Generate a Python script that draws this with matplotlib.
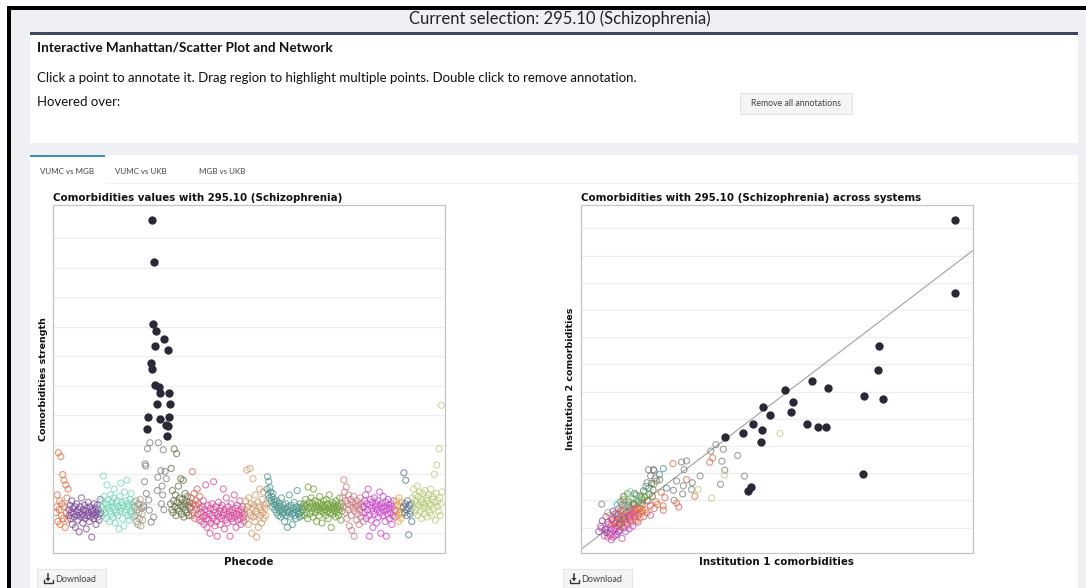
import matplotlib.pyplot as plt
import numpy as np
from matplotlib.patches import Rectangle, Polygon

# ---- data (arbitrary units) ----
# Manhattan plot: comorbidity strength per phecode, grouped by category (in phecode order)
cat_colors = ['#e8693a', '#7a4a9a', '#72d6b4', '#a69a80', '#7a7a7a', '#5e7040',
              '#d9605a', '#d8479a', '#cf9a66', '#4a958c', '#6c9e34', '#cc7a80',
              '#cc44cc', '#e8a63a', '#56709a', '#b9cc7a']

g0 = [0.7, 0.9, 1.3, 0.4, 2.73, 0.8, 1.1, 0.3, 2.6, 0.6, 1.0, 1.99, 0.5, 1.8, 0.9, 0.2, 1.64, 0.7, 1.2, 0.45, 1.5]
g1 = [0.8, 0.6, 0.95, 0.5, 0.7, 1.1, 0.3, 0.85, 0.65, 0.55, 0.9, 0.2, 0.75, 1.0, 0.6, 0.45, 0.8, 0.05, 0.7, 0.9,
      0.55, 1.2, 0.65, 0.35, 0.8, 0.6, 0.95, 0.5, 0.75, 0.15, 0.85, 0.6, 1.05, 0.7, 0.4, 0.9, 0.55, 0.8, -0.13, 0.65,
      0.75, 0.5, 1.0, 0.6, 0.85, 0.3, 0.7, 0.95, 0.55, 0.8, 0.45, 0.65, 1.15, 0.7]
g2 = [0.9, 1.1, 0.6, 1.94, 0.8, 1.25, 0.7, 1.0, 0.5, 1.64, 0.85, 1.15, 0.95, 0.4, 0.75, 1.3, 0.65, 1.05, 0.9, 0.55,
      1.2, 1.5, 0.8, 0.35, 1.0, 0.7, 1.1, 0.6, 0.9, 0.15, 1.25, 0.75, 1.7, 0.85, 1.05, 0.5, 0.95, 0.25, 1.4, 0.7,
      1.1, 0.8, 1.8, 0.6, 1.0, 0.9, 0.45, 1.15, 0.75, 1.35, 0.65, 0.95, 0.55, 1.05, 0.85]
g3 = [0.9, 0.6, 1.1, 0.4, 0.8, 0.3, 1.0, 0.7, 0.5, 1.15, 0.25, 0.85, 0.65, 0.45, 0.95]
# mental disorders group, includes the highlighted (strong) comorbidities
g4 = [0.9, 1.75, 2.35, 2.28, 1.35, 3.55, 2.87, 3.95, 1.13, 0.78, 3.07, 5.77, 0.38, 5.57, 10.61, 7.11, 0.55, 9.19,
      5.02, 6.35, 6.87, 4.38, 1.45, 1.9, 3.07, 4.95, 4.76, 3.86, 2.12, 1.0, 1.6, 1.3, 2.83, 0.8, 6.60, 2.1, 3.67,
      1.85, 3.31, 3.65, 6.20, 4.77, 3.95, 4.39]
g5 = [1.0, 2.2, 0.8, 1.45, 0.7, 1.1, 2.86, 0.9, 1.3, 0.6, 2.7, 1.05, 0.85, 1.6, 0.75, 1.2, 0.95, 1.85, 0.65, 1.15,
      0.9, 1.8, 0.55, 1.0, 1.35, 0.8, 1.1, 0.7, 1.25, 0.95, 0.6, 1.05, 0.85]
g6 = [0.9, 1.2, 0.6, 2.09, 1.0, 0.7, 1.35, 0.5, 0.95, 1.1, 0.8, 1.5, 0.65, 1.0, 0.45, 1.25, 0.85]
g7 = [0.7, 0.4, 0.9, 0.55, 1.1, 0.3, 0.8, 0.6, 1.64, 0.5, 0.2, 0.75, 0.95, 0.45, 0.65, 0.0, 0.85, 0.35, 1.0, 0.6,
      0.5, 1.75, 0.8, 0.25, 0.7, 0.9, 0.4, -0.1, 0.65, 1.05, 0.55, 0.75, 0.3, 0.85, 0.5, 0.95, 0.6, 1.5, 0.7, 0.15,
      0.8, 0.45, 1.2, 0.65, 0.35, 0.9, 0.55, 0.75, -0.1, 0.6, 1.0, 0.5, 0.8, 0.4, 0.7, 1.3, 0.55, 0.85, 0.2, 0.65,
      0.95, 0.45, 0.75, 0.6, 1.1, 0.5, 0.3, 0.8, 0.7, 0.9, 0.55, 0.4, 0.65]
g8 = [0.8, 1.1, 0.5, 2.15, 0.9, 0.3, 1.2, 0.7, 2.2, 0.6, 1.0, 0.0, 0.85, 1.85, 0.55, 0.95, 0.4, 1.3, 0.75, -0.13,
      0.65, 1.05, 0.2, 0.9, 1.5, 0.6, 0.8, 0.35, 1.15, 0.7, 1.4, 0.5, 0.95, 0.85, 0.6, 1.0]
g9 = [1.5, 1.92, 1.3, 1.76, 1.2, 1.55, 1.4, 1.1, 1.25, 0.9, 1.35, 1.0, 1.15, 0.8, 1.05, 0.95, 0.7, 1.1, 0.85, 0.6,
      1.0, 0.75, 0.9, 0.55, 1.2, 0.8, 0.65, 0.95, 0.7, 0.4, 0.85, 1.0, 0.6, 0.75, 0.2, 0.9, 0.7, 1.3, 0.55, 0.8,
      0.95, 0.65, 0.3, 0.85, 0.7, 1.05, 0.6, 0.8, 0.5, 0.9, 1.45, 0.75, 0.65, 0.85, 0.55, 1.0, 0.7, 0.6, 0.9, 0.8]
g10 = [0.8, 1.0, 0.6, 0.9, 1.15, 0.7, 0.95, 0.5, 1.57, 0.85, 1.05, 0.65, 0.9, 1.2, 0.75, 1.0, 0.55, 1.5, 0.85, 1.1,
       0.7, 0.95, 0.4, 0.8, 1.05, 0.9, 0.6, 1.25, 0.75, 1.0, 0.85, 0.35, 0.95, 0.7, 1.1, 0.8, 0.9, 0.6, 1.15, 0.75,
       1.0, 0.5, 0.85, 1.3, 0.7, 0.95, 0.2, 0.8, 1.05, 0.65, 0.9, 1.0, 0.75, 0.55, 1.1, 0.85, 0.7, 0.95, 0.6, 0.8,
       1.2, 0.9, 0.45, 1.0, 0.75]
g11 = [1.2, 0.9, 1.81, 1.4, 0.7, 1.1, 1.57, 0.5, 1.0, 0.8, 1.3, 0.25, 0.95, 1.15, 0.6, 0.1, 1.05, 0.85, 1.25, -0.1,
       0.75, 1.0, 0.9, 0.45, 1.1, 0.65, 0.95, 0.3, 0.8, 1.2, 0.55, 1.0, 0.7, 0.9, 0.4]
g12 = [0.9, 1.1, 0.7, 1.3, 0.5, 1.0, 0.8, 1.5, 0.6, -0.1, 0.95, 1.15, 0.45, 0.85, 1.05, 0.2, 0.75, 1.2, 0.65, 0.9,
       1.0, 0.35, 0.8, 1.1, 0.55, 0.95, 1.4, 0.7, 0.0, 0.85, 1.0, 0.6, 1.25, 0.75, 0.9, 0.4, 1.05, -0.1, 0.8, 0.65,
       1.15, 0.95, 0.5, 0.85, 0.7, 1.0, 0.3, 0.9, 0.6, 1.1, 0.8, 0.55, 0.75]
g13 = [0.8, 1.1, 0.6, 0.95, 0.4, 1.2, 0.7, 0.9, 0.5, 1.05, 0.65, 0.85]
g14 = [0.9, 2.05, 0.7, 1.0, 1.8, 0.8, 0.6, 1.1, 0.85, -0.05, 0.95, 0.65, 0.75, 1.0, 0.4]
g15 = [1.2, 0.9, 1.5, 0.7, 1.1, 1.3, 0.8, 1.0, 1.6, 0.6, 1.25, 0.95, 1.4, 0.75, 1.05, 0.5, 1.15, 1.35, 0.85, 1.0,
       0.65, 1.45, 0.9, 1.2, 0.55, 1.1, 0.8, 1.3, 1.0, 0.7, 1.5, 0.95, 0.6, 1.15, 1.25, 0.85, 2.0, 1.05, 0.45, 1.35,
       2.32, 0.9, 1.1, 0.75, 2.86, 1.2, 0.6, 1.0, 4.34, 1.4]
groups = [g0, g1, g2, g3, g4, g5, g6, g7, g8, g9, g10, g11, g12, g13, g14, g15]
sel_group = 4
highlight_cut = 3.2

# Scatter: institution 1 vs institution 2 comorbidities
rx = [0.70, 0.75, 0.85, 0.90, 0.95, 1.00, 1.05, 1.10, 1.10, 1.15, 1.20, 1.20, 1.25, 1.25, 1.30, 1.30, 1.35, 1.35,
      1.40, 1.40, 1.45, 1.45, 1.50, 1.50, 1.55, 1.55, 1.60, 1.60, 1.65, 1.65, 1.70, 1.70, 1.75, 1.75, 1.80, 1.80,
      1.85, 1.90, 1.90, 1.95, 2.00, 2.00, 2.05, 2.10, 2.15, 2.20, 2.25, 2.30, 1.00, 0.95, 1.10, 1.20, 1.30, 1.40,
      1.50, 1.55, 1.65, 1.75, 1.85, 1.95, 2.05, 2.15, 2.25, 2.35, 1.15, 1.25, 1.35, 1.45, 1.55, 1.65, 1.75, 1.85,
      1.95, 2.05, 2.15, 2.25, 2.40, 1.05, 1.15, 1.25, 1.35, 1.45, 0.80, 0.90, 1.60, 1.70, 1.80, 1.90, 1.35, 1.45,
      1.55, 1.25, 1.15, 1.05, 0.95, 1.50, 1.60, 1.70, 1.40, 2.45, 2.55, 2.50, 2.60,
      1.12, 1.22, 1.32, 1.42, 1.52, 1.62, 1.72, 1.82, 1.92, 1.18, 1.28, 1.38, 1.48, 1.58, 1.68, 1.78, 1.88, 1.98,
      2.08, 1.08, 1.18, 1.28, 1.38, 1.48, 1.58, 1.68, 1.78, 0.98, 0.88, 0.78, 1.02, 1.12, 1.32, 1.52, 1.72, 1.92,
      2.12, 2.02, 2.22, 2.32, 1.42, 1.62, 1.82, 2.18, 2.28, 1.58, 1.38, 1.22, 1.06, 0.92,
      3.98, 3.84, 4.19, 4.15, 4.23, 4.59, 4.78, 4.11, 3.54, 3.07, 3.05, 3.30, 3.32, 3.16, 3.02, 3.09, 2.88, 2.79,
      2.41, 2.23, 2.09, 2.81, 2.78, 3.81, 3.89, 3.16, 3.39, 2.94, 2.88, 2.51, 5.78, 3.86, 4.22, 3.48, 2.51, 0.78]
ry = [0.85, 1.05, 0.70, 0.95, 1.20, 0.80, 1.10, 0.65, 1.35, 0.95, 1.25, 0.75, 1.50, 1.05, 1.30, 0.90, 1.65, 1.15,
      1.40, 1.00, 1.80, 1.25, 1.55, 1.10, 1.95, 1.35, 1.70, 1.20, 1.50, 2.05, 1.30, 1.85, 1.60, 2.20, 1.45, 1.95,
      1.70, 2.10, 1.55, 1.85, 2.30, 1.65, 2.00, 2.45, 1.80, 2.15, 2.60, 1.95, 1.45, 1.55, 1.60, 1.85, 1.95, 2.15,
      2.25, 0.95, 1.05, 1.25, 1.35, 1.40, 1.55, 1.45, 1.70, 1.85, 1.50, 1.70, 1.85, 1.55, 1.75, 1.85, 1.95, 2.15,
      2.35, 2.65, 2.90, 3.10, 2.95, 0.55, 0.70, 0.85, 0.60, 0.85, 1.25, 1.40, 1.40, 1.55, 1.20, 1.85, 1.30, 1.45,
      1.60, 1.35, 1.15, 0.95, 0.65, 1.95, 2.05, 2.25, 1.70, 2.30, 2.10, 1.80, 2.45,
      1.22, 1.42, 1.62, 1.32, 1.82, 1.62, 1.42, 1.72, 2.02, 0.98, 1.18, 1.38, 1.68, 1.48, 1.88, 1.68, 1.92, 2.12,
      1.98, 1.32, 1.52, 1.12, 1.58, 1.18, 1.28, 1.38, 2.08, 1.12, 0.92, 0.98, 0.72, 0.88, 1.02, 1.42, 1.72, 1.62,
      2.22, 2.52, 2.38, 2.72, 1.92, 1.72, 1.52, 2.62, 2.82, 2.32, 2.02, 1.82, 1.28, 0.82,
      4.05, 3.81, 3.88, 3.44, 3.11, 3.65, 2.89, 2.59, 2.90, 2.54, 2.24, 2.40, 2.65, 3.45, 3.41, 3.13, 2.71, 2.37,
      2.76, 3.13, 3.13, 2.00, 3.35, 3.40, 3.56, 2.76, 2.15, 1.76, 1.90, 1.64, 4.46, 2.08, 2.93, 2.40, 3.17, 1.86]
rcat = [1, 7, 7, 12, 1, 7, 0, 7, 2, 12, 6, 1, 9, 7, 0, 12, 10, 8, 7, 1, 2, 0, 11, 7, 5, 6, 9, 0, 12, 2, 8, 10, 7,
        4, 0, 9, 5, 10, 6, 8, 2, 0, 11, 9, 6, 5, 10, 0, 15, 3, 1, 2, 9, 5, 10, 7, 12, 0, 8, 6, 0, 7, 6, 0, 10, 12,
        7, 9, 1, 0, 2, 10, 5, 4, 4, 4, 9, 7, 12, 1, 7, 12, 1, 7, 11, 6, 7, 0, 10, 8, 7, 9, 0, 12, 7, 2, 15, 5, 11,
        0, 6, 0, 9,
        0, 7, 6, 1, 9, 0, 12, 8, 10, 7, 0, 6, 2, 7, 5, 0, 9, 10, 4, 12, 7, 1, 0, 6, 7, 0, 2, 7, 1, 12, 7, 12, 0, 7,
        6, 0, 10, 9, 4, 4, 8, 11, 0, 5, 4, 2, 10, 2, 7, 1,
        4, 4, 4, 4, 4, 4, 4, 4, 4, 4, 4, 4, 4, 4, 4, 4, 4, 4, 4, 4, 4, 4, 0, 6, 0, 6, 0, 6, 0, 6, 15, 15, 15, 15,
        9, 4]
top_x = [10.69, 10.67, 8.56, 8.53, 6.68, 5.92, 7.12, 8.14, 8.66, 6.14, 5.29, 6.09, 5.51, 6.54, 6.84, 7.06, 5.03,
         4.73, 5.27, 4.25, 5.25, 8.11, 4.97, 4.87]
top_y = [12.29, 9.64, 7.68, 6.78, 6.37, 6.07, 6.12, 5.85, 5.74, 5.63, 5.44, 5.25, 5.14, 4.80, 4.70, 4.70, 4.81,
         4.48, 4.59, 4.32, 4.15, 2.96, 2.51, 2.33]

# ---- page layout (pixel based) ----
W, H = 1086, 588
fig = plt.figure(figsize=(W / 100, H / 100), dpi=100)
fig.patch.set_facecolor('#eff0f4')
ui = ['Lato', 'DejaVu Sans']


def fx(x):
    return x / W


def fy(y):
    return 1 - y / H


def box(x0, y0, x1, y1, fc, ec='none', lw=0, z=0):
    fig.add_artist(Rectangle((fx(x0), fy(y1)), (x1 - x0) / W, (y1 - y0) / H,
                             transform=fig.transFigure, fc=fc, ec=ec, lw=lw, zorder=z))


def txt(x, y, s, **kw):
    fig.text(fx(x), fy(y), s, **kw)


def axbox(x0, y0, x1, y1):
    return fig.add_axes([fx(x0), fy(y1), (x1 - x0) / W, (y1 - y0) / H])


# outer frame
box(0, 0, W, 6, '#ffffff')
box(0, 0, 7, H, '#ffffff')
box(7, 6, W, 9.5, '#000000')
box(7, 6, 11, H, '#000000')

# header
txt(560, 19, 'Current selection: 295.10 (Schizophrenia)', ha='center', va='center',
    fontsize=12, color='#222222', family=ui)

# info box
box(30, 33, 1078, 143, '#ffffff')
box(30, 32.5, 1078, 35, '#3d4a5c')
txt(37, 48, 'Interactive Manhattan/Scatter Plot and Network', va='center', fontsize=9.7,
    fontweight='bold', color='#111111', family=ui)
txt(37, 78, 'Click a point to annotate it. Drag region to highlight multiple points. Double click to remove annotation.',
    va='center', fontsize=9.5, color='#111111', family=ui)
txt(37, 102, 'Hovered over:', va='center', fontsize=9.5, color='#111111', family=ui)
box(740, 93, 852, 114, '#f4f4f4', '#dddddd', 0.6)
txt(796, 103.5, 'Remove all annotations', ha='center', va='center', fontsize=6.3, color='#444444', family=ui)

# tab box
box(30, 155, 1078, H, '#ffffff')
box(30, 155, 105, 157.5, '#3c8dbc')
box(105, 182.5, 1078, 183.5, '#f2f2f2')
for cx, lab in [(67, 'VUMC vs MGB'), (141, 'VUMC vs UKB'), (222, 'MGB vs UKB')]:
    txt(cx, 171, lab, ha='center', va='center', fontsize=5.8, color='#444444', family=ui)

# download buttons (icon drawn as a small arrow over a tray)
for bx in [37, 563]:
    box(bx, 569, bx + 69, H + 2, '#f4f4f4', '#e2e2e2', 0.6)
    ix = bx + 11
    fig.add_artist(plt.Line2D([fx(ix), fx(ix)], [fy(574), fy(579.5)], transform=fig.transFigure,
                              color='#333333', lw=1.1))
    fig.add_artist(Polygon([(fx(ix - 2.6), fy(578)), (fx(ix + 2.6), fy(578)), (fx(ix), fy(581))],
                           closed=True, transform=fig.transFigure, fc='#333333', ec='none'))
    fig.add_artist(plt.Line2D([fx(ix - 4.5), fx(ix - 4.5), fx(ix + 4.5), fx(ix + 4.5)],
                              [fy(580), fy(583), fy(583), fy(580)], transform=fig.transFigure,
                              color='#333333', lw=1.0))
    txt(bx + 18, 580, 'Download', va='center', fontsize=6.5, color='#444444', family=ui)


def style(ax):
    ax.set_xticks([])
    ax.tick_params(left=False, labelleft=False)
    for sp in ax.spines.values():
        sp.set_color('#c4c4c4')
        sp.set_linewidth(0.9)
    ax.set_facecolor('white')
    ax.grid(axis='y', color='#efefef', linewidth=1.0)
    ax.set_axisbelow(True)


title_font = dict(fontsize=7.4, fontweight='bold', family='DejaVu Sans', color='#111111')
ylab_font = dict(fontsize=6.8, fontweight='bold', family='DejaVu Sans', color='#111111')
hollow_s, strong_s = 19, 36

# ---- Manhattan plot ----
ax1 = axbox(53.3, 205, 445, 553)
style(ax1)
start = 0
for k, vals in enumerate(groups):
    vals = np.array(vals)
    idx = np.arange(start, start + len(vals))
    start += len(vals)
    strong = (vals > highlight_cut) & (k == sel_group)
    ax1.scatter(idx[~strong], vals[~strong], s=hollow_s, facecolors='none', edgecolors=cat_colors[k],
                linewidths=0.8, alpha=0.72, zorder=2)
    if strong.any():
        ax1.scatter(idx[strong], vals[strong], s=strong_s, color='#2b2838', zorder=3, linewidths=0)
n_total = start
ax1.set_xlim(-0.007 * n_total, n_total * 1.006)
ax1.set_ylim(-0.668, 11.13)
ax1.set_yticks(np.arange(0, 11))
ax1.set_title('Comorbidities values with 295.10 (Schizophrenia)', loc='left', pad=3, **title_font)
ax1.set_xlabel('Phecode', labelpad=3, **title_font)
ax1.set_ylabel('Comorbidities strength', labelpad=4, **ylab_font)

# ---- scatter across systems ----
ax2 = axbox(581, 205, 972.7, 553.3)
style(ax2)
rc = [cat_colors[c] for c in rcat]
ax2.scatter(rx, ry, s=hollow_s, facecolors='none', edgecolors=rc, linewidths=0.8, alpha=0.72, zorder=2)
ax2.scatter(top_x, top_y, s=strong_s, color='#2b2838', zorder=3, linewidths=0)
ax2.plot([0, 13], [0, 13], color='#a0a0a0', linewidth=0.8, zorder=1)
ax2.set_xlim(0.20, 11.18)
ax2.set_ylim(0.055, 12.857)
ax2.set_yticks(np.arange(1, 13))
ax2.set_title('Comorbidities with 295.10 (Schizophrenia) across systems', loc='left', pad=3, **title_font)
ax2.set_xlabel('Institution 1 comorbidities', labelpad=3, **title_font)
ax2.set_ylabel('Institution 2 comorbidities', labelpad=4, **ylab_font)

fig.savefig('out.png', dpi=100)
